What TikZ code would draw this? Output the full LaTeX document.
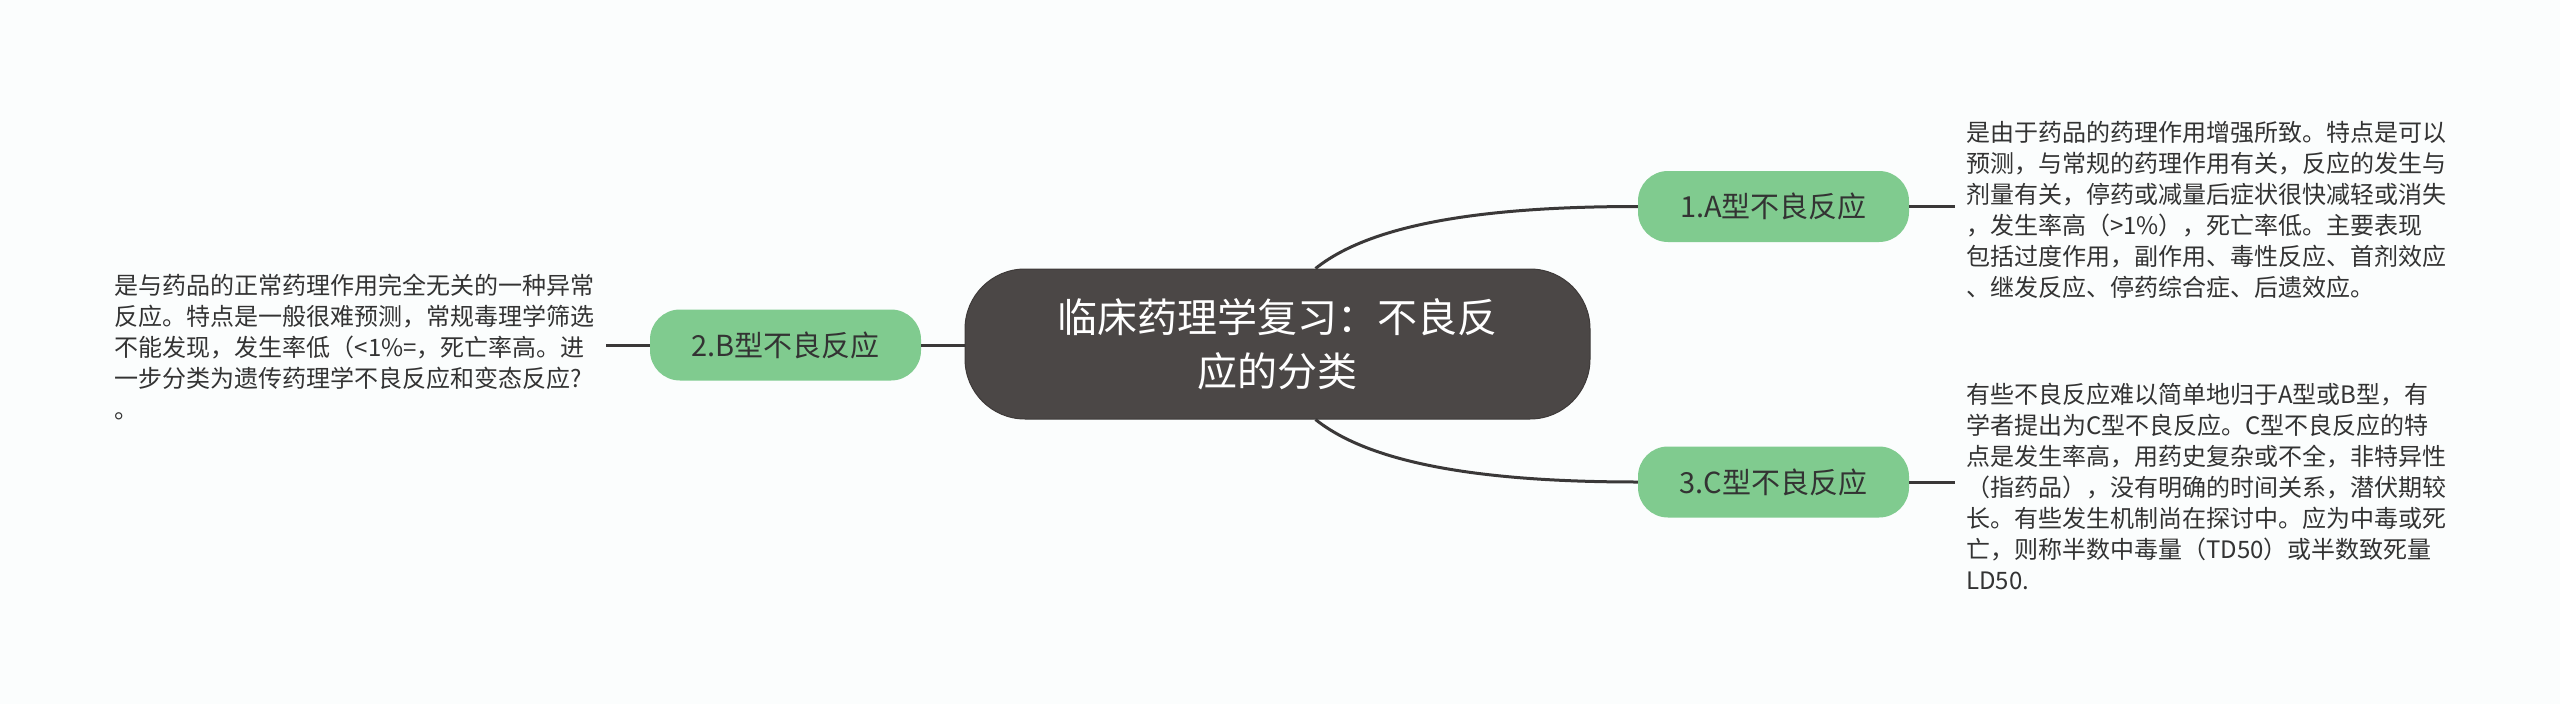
\documentclass[tikz,border=0pt]{standalone}
\usepackage{fontspec}
\setmainfont{Noto Sans CJK SC}
\definecolor{bg}{HTML}{FBFDFD}
\definecolor{hub}{HTML}{4B4746}
\definecolor{hubline}{HTML}{3E3A39}
\definecolor{leaf}{HTML}{80CB8F}
\definecolor{ink}{HTML}{333333}
\definecolor{wire}{HTML}{3A3838}
\begin{document}
\begin{tikzpicture}[x=1pt,y=-1pt,
  hubbox/.style={fill=hub, draw=hubline, line width=1pt, rounded corners=60pt,
    minimum width=625pt, minimum height=150pt, text=white, align=center,
    font=\fontsize{40}{54}\selectfont, inner sep=0pt},
  leafbox/.style={fill=leaf, rounded corners=30pt, minimum width=271pt,
    minimum height=71pt, text=ink, font=\fontsize{29}{35}\selectfont, inner sep=0pt},
  note/.style={text=ink, align=left, font=\fontsize{24}{31}\selectfont,
    inner ysep=0pt, inner xsep=11pt},
  conn/.style={draw=wire, line width=3pt}]

\fill[bg] (0,0) rectangle (2560,704);
\useasboundingbox (0,0) rectangle (2560,704);

\node[hubbox] (c) at (1277.5,344) {临床药理学复习：不良反\\应的分类};
\node[leafbox] (a) at (1773.5,206.5) {1.A型不良反应};
\node[leafbox] (b) at (785.5,345) {2.B型不良反应};
\node[leafbox] (cc) at (1773.5,482) {3.C型不良反应};

\node[note, anchor=west] (ta) at (1955,210) {是由于药品的药理作用增强所致。特点是可以\\
预测，与常规的药理作用有关，反应的发生与\\
剂量有关，停药或减量后症状很快减轻或消失\\
，发生率高（>1\%），死亡率低。主要表现\\
包括过度作用，副作用、毒性反应、首剂效应\\
、继发反应、停药综合症、后遗效应。};

\node[note, anchor=west] (tc) at (1955,486.5) {有些不良反应难以简单地归于A型或B型，有\\
学者提出为C型不良反应。C型不良反应的特\\
点是发生率高，用药史复杂或不全，非特异性\\
（指药品），没有明确的时间关系，潜伏期较\\
长。有些发生机制尚在探讨中。应为中毒或死\\
亡，则称半数中毒量（TD50）或半数致死量\\
LD50.};

\node[note, anchor=east] (tb) at (606,347) {是与药品的正常药理作用完全无关的一种异常\\
反应。特点是一般很难预测，常规毒理学筛选\\
不能发现，发生率低（<1\%=，死亡率高。进\\
一步分类为遗传药理学不良反应和变态反应?\\
。};

\draw[conn] ([xshift=38pt]c.north) .. controls +(55,-44) and +(-157,0) .. (a.west);
\draw[conn] ([xshift=38pt]c.south) .. controls +(55,44) and +(-157,0) .. (cc.west);
\draw[conn] (b.east) -- (b.east -| c.west);
\draw[conn] (b.west) -- (b.west -| tb.east);
\draw[conn] (a.east) -- (a.east -| ta.west);
\draw[conn] (cc.east) -- (cc.east -| tc.west);
\end{tikzpicture}
\end{document}
